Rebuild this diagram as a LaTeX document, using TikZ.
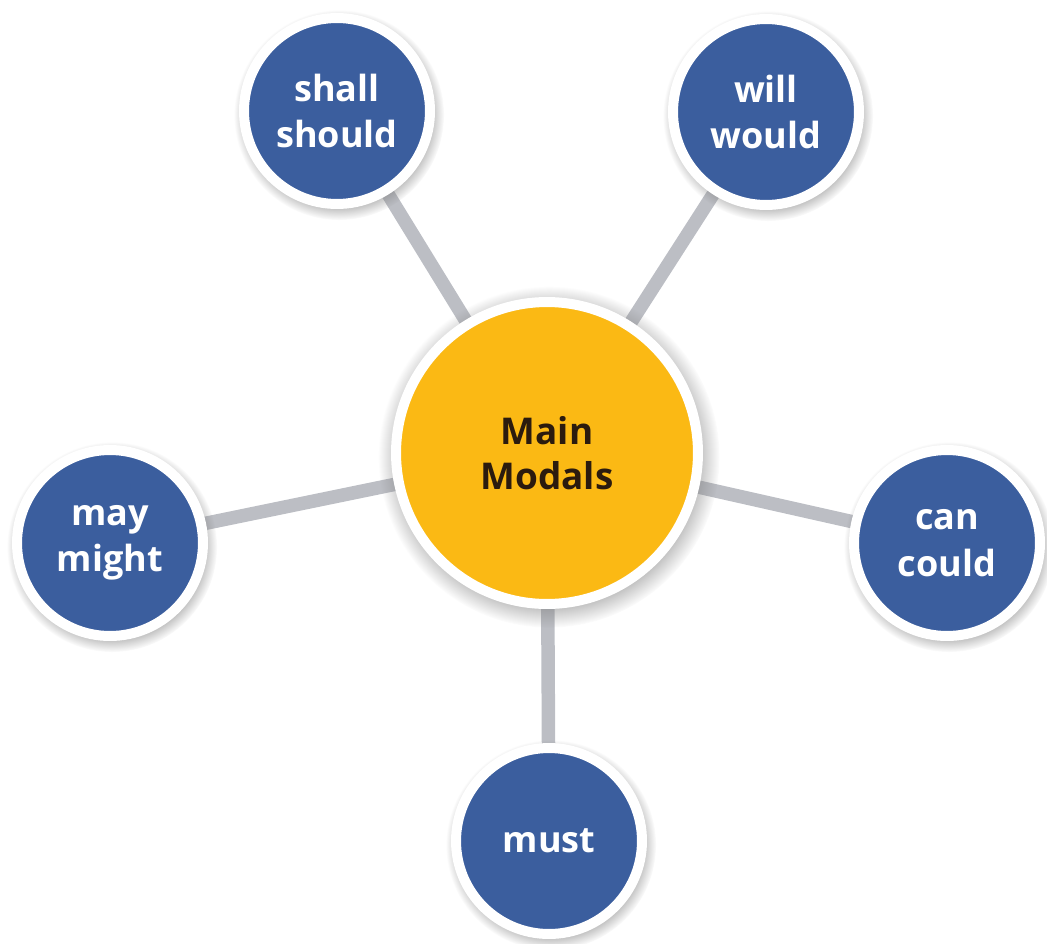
\documentclass[tikz,border=0pt]{standalone}
\usepackage{fontspec}
\setmainfont{Open Sans}
\usetikzlibrary{positioning,shadows,fadings,backgrounds}
\definecolor{modalblue}{RGB}{59,94,158}
\definecolor{modalgold}{RGB}{251,185,20}
\definecolor{spokegray}{RGB}{188,190,196}
\definecolor{modalink}{RGB}{43,27,14}
\tikzset{
    ringshadow/.style={circular drop shadow={shadow xshift=1pt,shadow yshift=-2pt,shadow scale=1.13,opacity=.6}}
}

\begin{document}
\begin{tikzpicture}[x=0.02cm,y=-0.02cm,
modal/.style={circle,draw=white,line width=0.2cm,fill=modalblue,inner sep=0pt,minimum size=3.72cm,align=center,text=white,font=\fontsize{20.5}{26.5}\selectfont\bfseries,ringshadow},
core/.style={circle,draw=white,line width=0.2cm,fill=modalgold,inner sep=0pt,minimum size=6.04cm,align=center,text=modalink,font=\fontsize{21}{25.5}\selectfont\bfseries,ringshadow},
spoke/.style={draw=spokegray,line width=0.27cm}]
\useasboundingbox (0,0) rectangle (1047,943);
\node [core] (MM) at (547,453) {Main\\Modals};
\node [modal] (SS) at (337,111) {shall\\should};
\node [modal] (WW) at (766,112) {will\\would};
\node [modal] (MY) at (110,543) {may\\might};
\node [modal] (CC) at (947,543) {can\\could};
\node [modal] (MU) at (549,841) {must};
\begin{scope}[on background layer]
\foreach \m in {SS, WW, MY, CC, MU}
\draw [spoke] (MM.center) -- (\m.center);
\end{scope}
\end{tikzpicture}
\end{document}
